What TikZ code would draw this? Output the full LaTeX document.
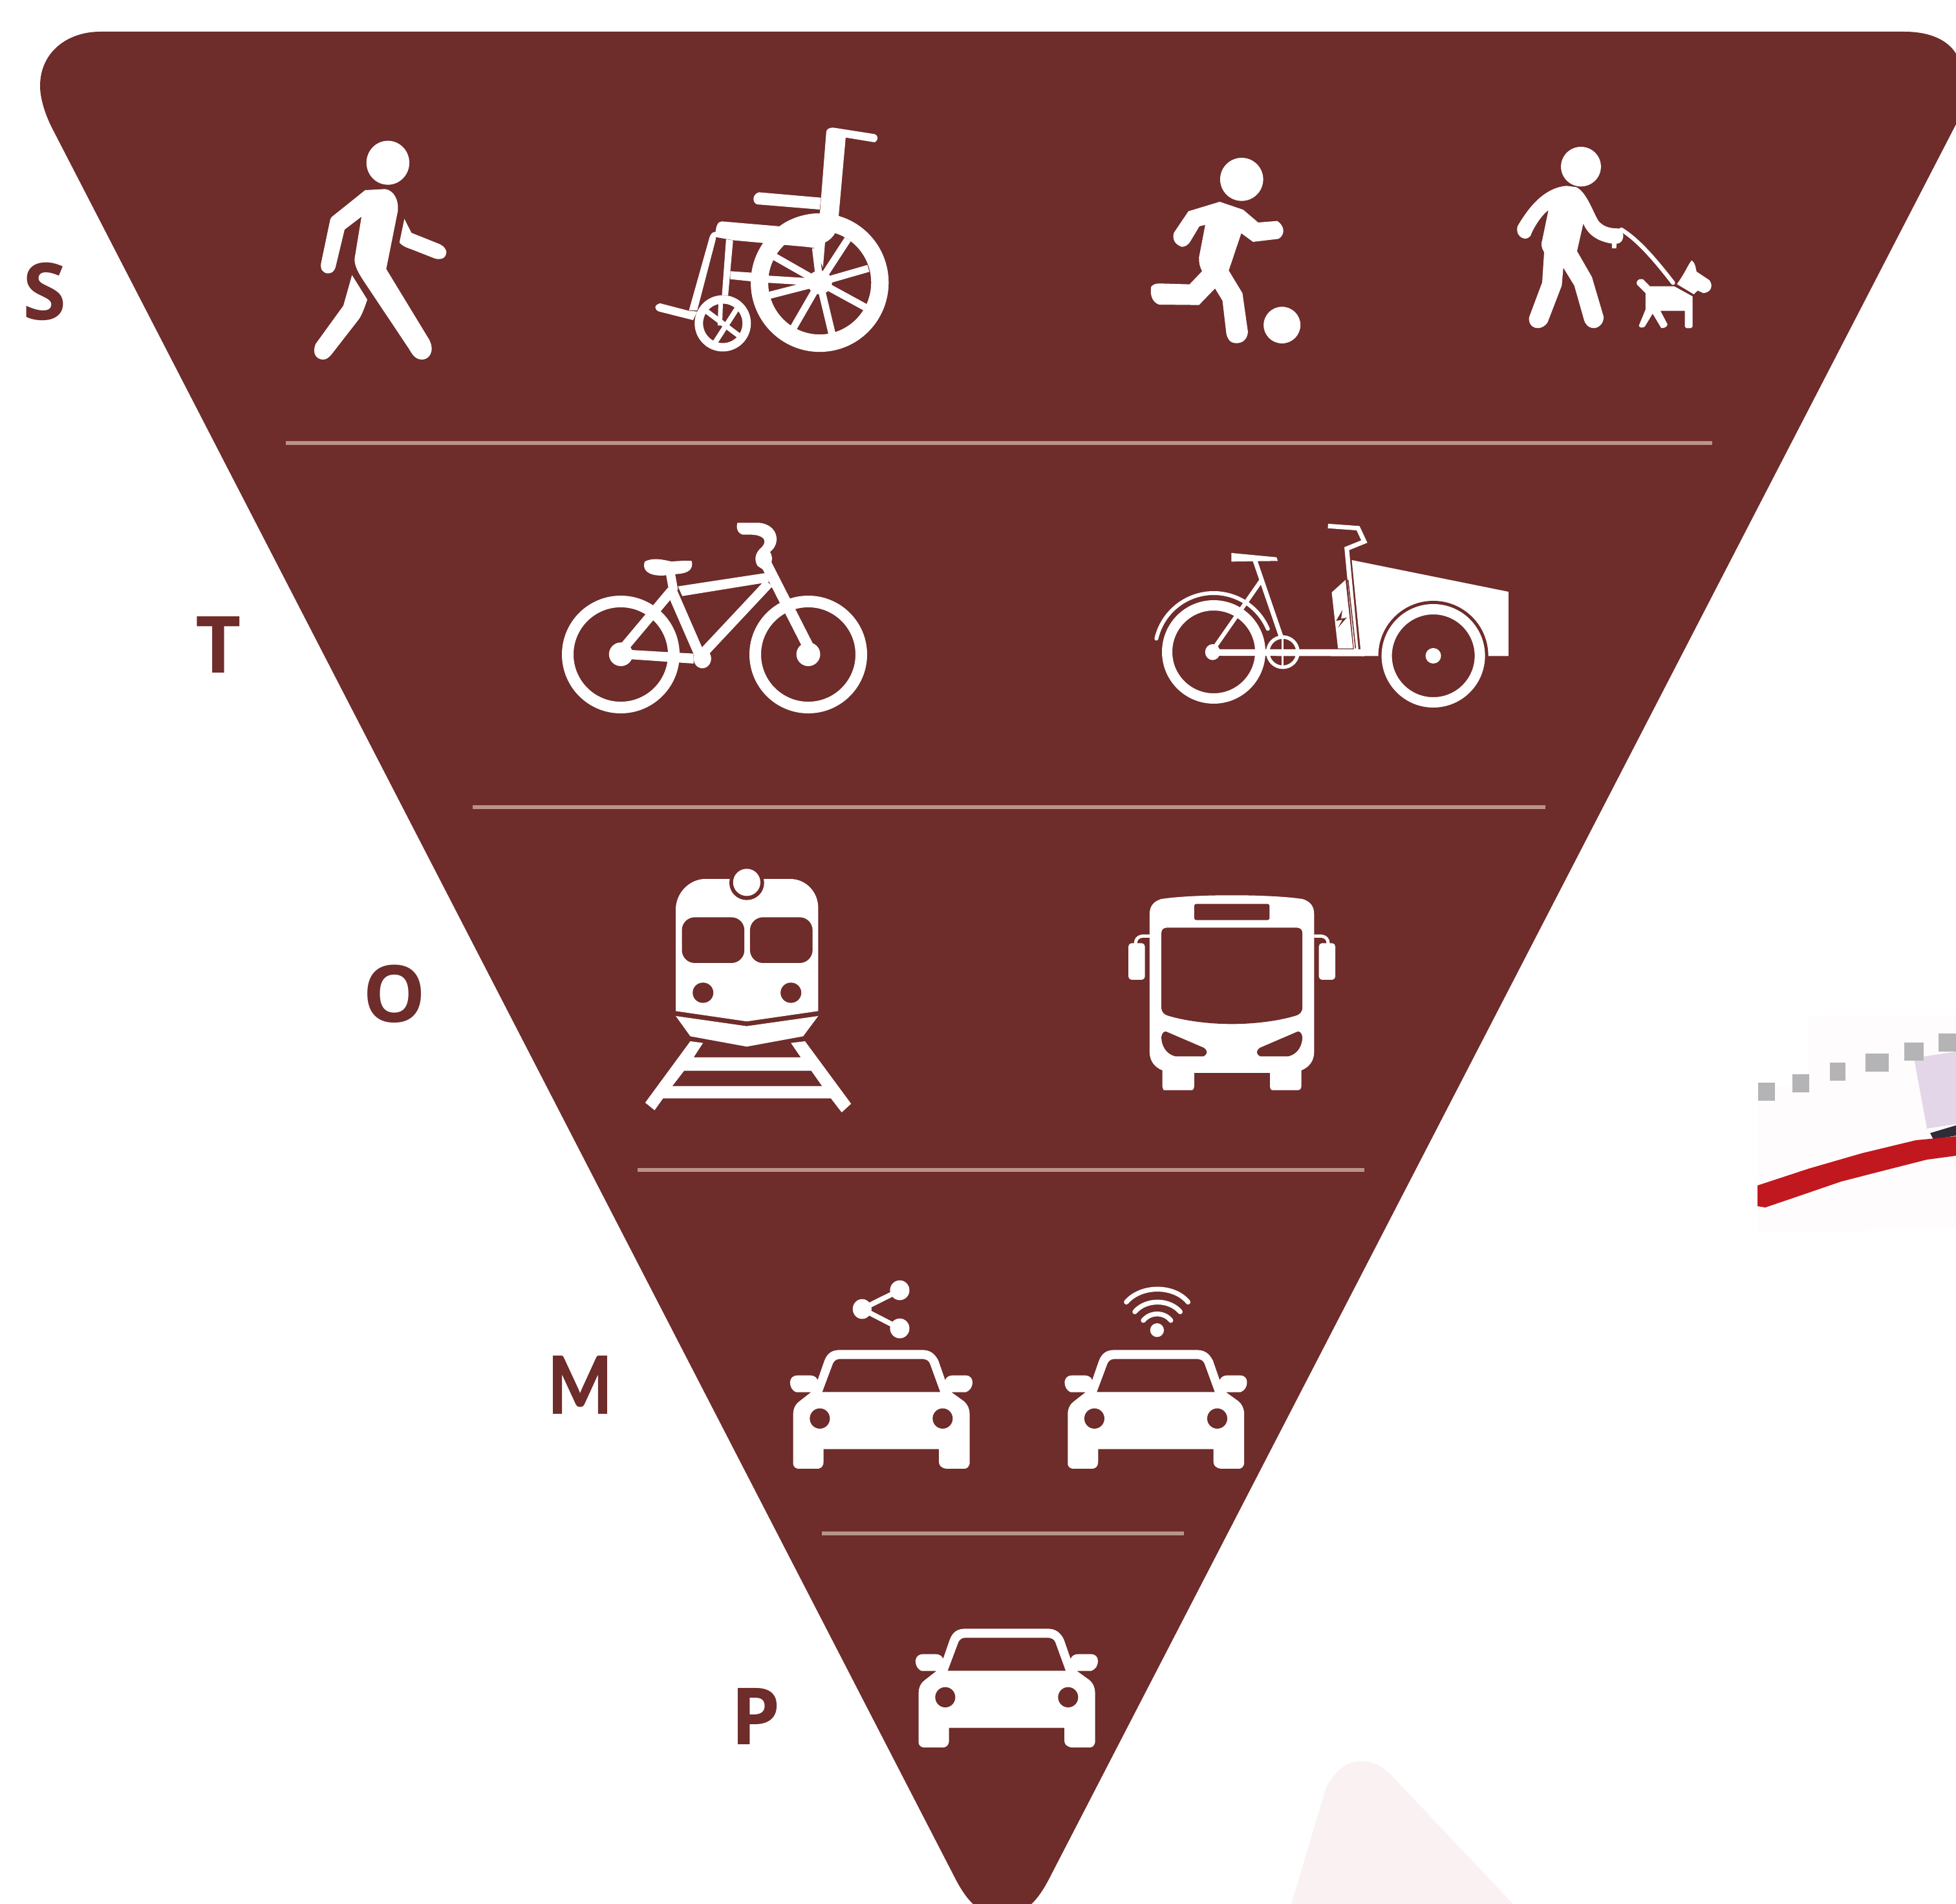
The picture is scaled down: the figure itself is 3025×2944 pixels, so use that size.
\documentclass[tikz,border=0pt]{standalone}
\usepackage{fontspec}
\setmainfont{Open Sans}[BoldFont={Open Sans Bold}]
\newfontfamily\splayfont{Lato}[BoldFeatures={FakeBold=1.5}]
\definecolor{wine}{HTML}{6E2C2A}
\definecolor{rulec}{HTML}{B8948A}
\definecolor{pale}{HTML}{FAF2F2}
\definecolor{faint}{HTML}{FEFCFC}
\definecolor{chipg}{HTML}{B4B4B6}
\definecolor{lilac}{HTML}{E3D6E8}
\definecolor{redstroke}{HTML}{C0181E}
\definecolor{darkstroke}{HTML}{2E2C38}
\tikzset{
  zm/.style n args={4}{shift={(#1,#2)},x=#3pt,y=-#4pt},
  ico/.style={fill=white,draw=none},
  cut/.style={fill=wine,draw=none},
  wl/.style={draw=white,line cap=round,line join=round},
  divider/.style={draw=rulec,line width=5.5pt},
  letter/.style={text=wine,font=\fontsize{122}{122}\selectfont\bfseries,inner sep=0pt,anchor=center}
}
\newcommand{\carshape}{%
  \fill[ico] (55,910) -- (55,680) .. controls (55,650) and (65,630) .. (75,620) -- (112,578) -- (65,578) .. controls (50,570) and (45,550) .. (45,530) .. controls (47,510) and (55,500) .. (70,500) -- (110,500) .. controls (125,502) and (130,510) .. (133,522) -- (155,430) .. controls (165,395) and (180,382) .. (205,382) -- (465,382) .. controls (490,382) and (505,395) .. (518,430) -- (540,522) .. controls (543,510) and (550,500) .. (565,500) -- (605,500) .. controls (620,500) and (627,515) .. (627,530) .. controls (627,555) and (620,570) .. (605,578) -- (560,578) -- (600,620) .. controls (612,635) and (618,655) .. (618,680) -- (618,910) .. controls (615,925) and (610,933) .. (600,933) -- (545,933) .. controls (525,930) and (520,915) .. (520,900) -- (520,842) -- (152,842) -- (152,900) .. controls (152,915) and (148,930) .. (135,933) -- (70,933) .. controls (60,930) and (55,920) .. (55,910) -- cycle;
  \fill[cut] (148,577) -- (182,445) .. controls (187,430) and (195,424) .. (205,424) -- (465,424) .. controls (480,424) and (487,432) .. (491,445) -- (524,577) -- cycle;
  \fill[cut] (140,700) ellipse [x radius=32,y radius=47];
  \fill[cut] (532,700) ellipse [x radius=32,y radius=47];
}
\begin{document}
\begin{tikzpicture}[x=1pt,y=-1pt]
\useasboundingbox (0,0) rectangle (3025,2944);
\fill[white] (0,0) rectangle (3025,2944);
\clip (0,0) rectangle (3025,2944);

% faint scraps at the edges
\fill[faint] (2718,1680) -- (2797,1680) -- (2797,1570) -- (3025,1570) -- (3025,1900) -- (2885,1900) -- (2885,1905) -- (2718,1905) -- cycle;
\fill[pale] (1997,2944) -- (2050,2767) .. controls (2062,2738) and (2085,2723) .. (2105,2723) .. controls (2122,2723) and (2138,2731) .. (2150,2743) -- (2340,2944) -- cycle;

% scrap of map
\fill[lilac] (2960,1636) -- (3025,1626) -- (3025,1738) -- (2980,1745) -- cycle;
\fill[darkstroke] (2985,1752) -- (3025,1740) -- (3025,1756) -- (2990,1762) -- cycle;
\fill[redstroke] (2718,1833) -- (2797,1807) -- (2880,1783) -- (2963,1763) -- (3025,1757) -- (3025,1787) -- (2980,1793) -- (2913,1810) -- (2847,1827) -- (2780,1850) -- (2730,1867) -- (2718,1865) -- cycle;
\foreach \cx/\cy/\w in {2732/1688/26,2785/1675/26,2842/1657/24,2903/1643/36,2960/1626/30,3013/1612/30}
  \fill[chipg] (\cx-\w/2,\cy-14) rectangle (\cx+\w/2,\cy+14);

% funnel
\fill[wine] (155,49) -- (2945,49) .. controls (2985,49) and (3012,62) .. (3025,83) -- (3025,192) -- (1625,2900) .. controls (1615,2920) and (1605,2935) .. (1595,2944) -- (1505,2944) .. controls (1495,2935) and (1485,2920) .. (1475,2900) -- (79,195) .. controls (68,172) and (62,150) .. (62,133) .. controls (62,80) and (105,49) .. (155,49) -- cycle;

% dividers
\draw[divider] (442,685) -- (2648,685);
\draw[divider] (731,1248) -- (2390,1248);
\draw[divider] (986,1809) -- (2110,1809);
\draw[divider] (1271,2371) -- (1831,2371);

% letters
\node[letter] (ls) at (69,451) {S};
\node[letter] (lt) at (338,997) {T};
\node[letter] (lo) at (610,1537) {O};
\node[letter] (lm) at (897,2141) {\splayfont\scalebox{0.86}[1]{M}};
\node[letter] (lp) at (1169,2654) {P};

% walker and wheelchair
\begin{scope}[zm={450}{170}{0.6378}{0.3333}]
\fill[ico] (235,245) ellipse [x radius=52,y radius=102];
\fill[ico] (180,372) -- (228,367) .. controls (250,372) and (262,420) .. (259,470) -- (231,738) -- (335,1065) .. controls (350,1120) and (335,1158) .. (318,1158) .. controls (300,1158) and (293,1130) .. (285,1105) -- (175,790) .. controls (160,745) and (150,710) .. (156,670) -- (171,495) -- (130,555) -- (108,730) .. controls (105,750) and (98,758) .. (90,758) .. controls (78,758) and (70,740) .. (73,710) -- (95,510) .. controls (97,497) and (100,495) .. (105,487) -- cycle;
\fill[ico] (148,766) -- (185,880) .. controls (178,920) and (172,950) .. (165,970) -- (100,1130) .. controls (92,1150) and (85,1158) .. (78,1158) .. controls (62,1158) and (50,1130) .. (60,1085) -- (127,908) -- cycle;
\fill[ico] (275,505) -- (292,570) -- (360,622) .. controls (375,635) and (380,660) .. (375,675) .. controls (372,690) and (362,695) .. (350,690) -- (290,645) .. controls (278,638) and (268,628) .. (263,615) -- cycle;
% chair
\draw[wl,line width=27pt] (1282,801) ellipse [x radius=146,y radius=281];
\foreach \a/\b in {1350/600,1400/735,1392/915,1312/1040,1218/1012,1160/860,1155/785,1172/680,1272/640}
  \draw[white,line width=11pt] (1282,800) -- (\a,\b);
\fill[ico] (1282,800) ellipse [x radius=30,y radius=55];
\fill[ico] (1030,590) .. controls (1028,540) and (1035,517) .. (1045,517) -- (1185,540) .. controls (1210,500) and (1250,482) .. (1285,482) -- (1328,492) -- (1320,568) .. controls (1315,590) and (1305,605) .. (1295,615) -- (1290,730) -- (1270,640) -- (1248,635) -- (1075,605) -- cycle;
\fill[ico] (1298,100) .. controls (1300,88) and (1305,82) .. (1315,82) -- (1415,112) .. controls (1425,120) and (1425,140) .. (1415,150) -- (1345,128) -- (1328,492) -- (1282,490) -- cycle;
\fill[ico] (1135,382) -- (1285,407) -- (1282,462) -- (1130,438) .. controls (1118,430) and (1118,390) .. (1135,382) -- cycle;
\fill[ico] (1015,590) .. controls (1018,575) and (1022,565) .. (1030,565) -- (1030,600) -- (985,930) -- (965,930) -- cycle;
\fill[ico] (1055,600) -- (1072,605) -- (1060,860) -- (1045,860) -- cycle;
\fill[ico] (1065,748) -- (1118,755) -- (1115,795) -- (1065,785) -- cycle;
\fill[ico] (895,897) -- (965,932) -- (985,935) -- (975,975) -- (892,935) .. controls (880,925) and (880,905) .. (895,897) -- cycle;
\draw[white,line width=13pt] (1047,990) ellipse [x radius=58,y radius=111];
\draw[white,line width=8pt] (1005,930) -- (1088,1050);
\draw[white,line width=8pt] (1082,920) -- (1028,1080);
\draw[white,line width=7pt] (1042,890) -- (1040,1000);
\end{scope}

% kicker and dog walker
\begin{scope}[zm={1750}{190}{0.6059}{0.3333}]
\fill[ico] (281,262) ellipse [x radius=55,y radius=100];
\fill[ico] (225,366) -- (285,403) -- (323,462) -- (372,455) .. controls (392,480) and (392,520) .. (375,538) -- (310,552) -- (280,512) -- (248,685) -- (283,790) -- (297,970) .. controls (295,1010) and (280,1022) .. (268,1022) .. controls (250,1022) and (245,1000) .. (242,980) -- (232,825) -- (213,768) -- (172,845) -- (70,843) .. controls (50,830) and (47,790) .. (50,760) .. controls (55,750) and (60,745) .. (72,745) -- (148,749) -- (180,688) .. controls (172,660) and (172,640) .. (172,625) -- (188,473) -- (173,480) -- (150,550) .. controls (143,570) and (135,575) .. (128,575) .. controls (105,560) and (105,530) .. (108,510) -- (145,410) -- cycle;
\fill[ico] (384,938) ellipse [x radius=47,y radius=85];
% dog walker
\fill[ico] (1147,203) ellipse [x radius=51,y radius=92];
\fill[ico] (1110,292) -- (1135,298) .. controls (1160,320) and (1175,400) .. (1190,450) .. controls (1205,490) and (1230,490) .. (1250,490) -- (1255,520) .. controls (1256,540) and (1250,560) .. (1238,560) -- (1237,582) -- (1226,582) -- (1226,560) .. controls (1190,550) and (1165,520) .. (1153,467) -- (1137,595) -- (1175,715) -- (1205,900) .. controls (1205,935) and (1190,952) .. (1180,952) .. controls (1165,952) and (1157,930) .. (1155,915) -- (1130,755) -- (1102,672) -- (1098,755) -- (1062,925) .. controls (1055,945) and (1045,952) .. (1037,952) .. controls (1020,952) and (1012,925) .. (1015,900) -- (1048,740) -- (1053,600) .. controls (1045,575) and (1045,560) .. (1048,545) -- (1064,405) .. controls (1045,430) and (1025,490) .. (1018,525) .. controls (1015,532) and (1010,537) .. (1003,537) .. controls (985,530) and (982,500) .. (985,480) .. controls (1020,370) and (1060,300) .. (1110,292) -- cycle;
\draw[wl,line width=6.5pt] (1250,495) .. controls (1290,540) and (1330,620) .. (1382,742);
\fill[ico] (1297,725) -- (1305,725) -- (1323,758) -- (1385,758) -- (1432,805) -- (1432,945) -- (1428,952) -- (1416,952) -- (1412,945) -- (1412,872) -- (1350,872) -- (1368,935) .. controls (1366,948) and (1360,952) .. (1352,952) -- (1330,885) -- (1310,945) .. controls (1305,952) and (1295,952) .. (1295,940) -- (1312,865) -- (1312,790) -- (1290,750) .. controls (1288,738) and (1290,730) .. (1297,725) -- cycle;
\fill[ico] (1392,748) .. controls (1415,690) and (1422,650) .. (1430,638) .. controls (1440,650) and (1440,680) .. (1442,690) -- (1475,730) .. controls (1485,755) and (1480,785) .. (1460,790) -- (1445,778) -- (1435,795) -- cycle;
\end{scope}

% wheels of the bicycle and cargo bike
\draw[white,line width=18pt] (960,1012) circle [radius=82];
\draw[white,line width=18pt] (1250,1012) circle [radius=82];
\draw[white,line width=16pt] (1877,1008) circle [radius=72];
\draw[wl,line width=6pt] (1877,1008) ++(-167:91) arc[start angle=-167,end angle=-23,radius=91];
\begin{scope}[zm={840}{780}{0.9694}{0.3333}]
\fill[ico] (124,695) ellipse [x radius=19,y radius=55];
\fill[ico] (423,695) ellipse [x radius=19,y radius=55];
\fill[ico] (140,675) -- (240,692) -- (240,738) -- (140,718) -- cycle;
\fill[ico] (254,715) ellipse [x radius=14,y radius=45];
\draw[white,line width=15pt] (130,660) -- (205,400);
\draw[white,line width=16pt] (205,400) -- (250,700);
\draw[white,line width=15pt] (252,700) -- (360,365);
\fill[ico] (215,380) -- (355,318) -- (360,360) -- (222,425) -- cycle;
\draw[white,line width=17pt] (353,260) -- (423,660);
\fill[ico] (310,85) -- (345,85) .. controls (375,95) and (380,180) .. (362,220) .. controls (368,250) and (365,280) .. (355,310) -- (342,285) .. controls (335,250) and (340,220) .. (348,200) .. controls (360,165) and (350,140) .. (330,140) -- (318,140) .. controls (308,130) and (308,100) .. (310,85) -- cycle;
\fill[ico] (162,265) .. controls (175,245) and (190,255) .. (205,265) .. controls (215,262) and (225,260) .. (237,262) .. controls (240,300) and (232,318) .. (216,322) -- (190,330) .. controls (165,330) and (158,300) .. (162,265) -- cycle;
\draw[white,line width=14pt] (203,320) -- (208,400);
% cargo bike
\fill[ico] (1068,685) ellipse [x radius=12,y radius=37];
\fill[ico] (1078,672) -- (1310,672) -- (1310,704) -- (1078,702) -- cycle;
\draw[white,line width=6.5pt] (1072,660) -- (1145,355);
\draw[white,line width=7pt] (1135,255) -- (1178,620);
\fill[ico] (1098,225) -- (1170,245) -- (1172,262) -- (1098,265) -- cycle;
\draw[white,line width=5.5pt] (1180,685) ellipse [x radius=24,y radius=70];
\draw[white,line width=3pt] (1180,615) -- (1180,755);
\fill[ico] (1290,258) -- (1540,405) -- (1540,703) -- (1305,703) -- cycle;
\draw[white,line width=7pt,line join=miter] (1252,100) -- (1300,110) -- (1310,172) -- (1282,205) -- (1297,672);
\fill[ico] (1258,408) -- (1280,350) -- (1292,668) -- (1268,668) -- cycle;
\draw[wine,line width=1.5pt] (1284,350) -- (1296,668);
\fill[cut] (1275,490) -- (1265,540) -- (1275,535) -- (1268,572) -- (1282,525) -- (1273,530) -- cycle;
\end{scope}
\fill[wine] (2216.6,1014) circle [radius=85];
\fill[wine] (2125,1015) rectangle (2360,1105);
\draw[white,line width=16pt] (2216.6,1014) circle [radius=72];
\fill[white] (2216.6,1014) circle [radius=12];

% train and bus
\begin{scope}[zm={960}{1320}{0.7270}{0.3333}]
\fill[ico] (117,730) -- (117,250) .. controls (120,170) and (150,117) .. (180,117) -- (360,117) .. controls (395,117) and (420,180) .. (420,250) -- (420,730) -- (268,778) -- cycle;
\fill[cut] (268,135) ellipse [x radius=37,y radius=80];
\fill[ico] (268,133) ellipse [x radius=29,y radius=63];
\fill[cut,rounded corners=20pt] (130,295) rectangle (263,507);
\fill[cut,rounded corners=20pt] (275,295) rectangle (408,507);
\fill[cut] (175,645) ellipse [x radius=22,y radius=47];
\fill[cut] (362,645) ellipse [x radius=22,y radius=47];
\fill[ico] (117,753) -- (268,800) -- (420,753) -- (388,847) -- (268,895) -- (148,847) -- cycle;
\fill[ico] (148,870) -- (175,878) -- (155,945) -- (383,945) -- (362,878) -- (392,870) -- (490,1160) -- (470,1200) -- (447,1135) -- (90,1135) -- (72,1190) -- (52,1155) -- cycle;
\fill[cut] (135,1007) -- (405,1007) -- (428,1078) -- (110,1078) -- cycle;
% bus
\fill[ico] (1125,280) .. controls (1125,240) and (1135,220) .. (1150,210) .. controls (1220,187) and (1380,187) .. (1450,210) .. controls (1465,220) and (1475,240) .. (1475,280) -- (1475,920) .. controls (1475,960) and (1465,990) .. (1448,1005) -- (1448,1075) .. controls (1448,1090) and (1445,1097) .. (1440,1097) -- (1385,1097) .. controls (1381,1090) and (1381,1085) .. (1381,1075) -- (1381,1017) -- (1220,1017) -- (1220,1075) .. controls (1220,1085) and (1218,1097) .. (1215,1097) -- (1155,1097) .. controls (1152,1085) and (1152,1080) .. (1152,1075) -- (1152,1005) .. controls (1135,990) and (1125,960) .. (1125,920) -- cycle;
\fill[cut,rounded corners=3pt] (1220,233) rectangle (1380,308);
\fill[cut] (1150,370) .. controls (1150,350) and (1155,343) .. (1165,343) -- (1435,343) .. controls (1445,343) and (1450,350) .. (1450,370) -- (1450,710) .. controls (1450,735) and (1445,745) .. (1435,752) .. controls (1400,775) and (1350,790) .. (1300,790) .. controls (1250,790) and (1200,775) .. (1165,752) .. controls (1155,745) and (1150,735) .. (1150,710) -- cycle;
\fill[cut] (1150,850) .. controls (1152,830) and (1155,825) .. (1160,825) -- (1240,900) .. controls (1250,915) and (1248,930) .. (1240,940) -- (1180,940) .. controls (1160,930) and (1150,890) .. (1150,850) -- cycle;
\fill[cut] (1450,850) .. controls (1448,830) and (1445,825) .. (1440,825) -- (1360,900) .. controls (1350,915) and (1352,930) .. (1360,940) -- (1420,940) .. controls (1440,930) and (1450,890) .. (1450,850) -- cycle;
\fill[ico,rounded corners=5pt] (1080,415) rectangle (1115,585);
\fill[ico,rounded corners=5pt] (1485,415) rectangle (1520,585);
\draw[white,line width=5pt] (1125,382) -- (1110,382) .. controls (1098,387) and (1096,397) .. (1095,417);
\draw[white,line width=5pt] (1475,382) -- (1490,382) .. controls (1502,387) and (1504,397) .. (1505,417);
\end{scope}

% shared car, connected car, private car
\begin{scope}[zm={1200}{1960}{0.4847}{0.3333}]
\carshape
\draw[white,line width=8pt] (275,192) -- (395,105);
\draw[white,line width=8pt] (275,192) -- (395,282);
\fill[ico] (395,105) ellipse [x radius=31,y radius=46];
\fill[ico] (275,192) ellipse [x radius=30,y radius=46];
\fill[ico] (395,282) ellipse [x radius=31,y radius=46];
\fill[ico] (1216,290) ellipse [x radius=22,y radius=32];
\draw[wl,line width=7.5pt] (1172,245) .. controls (1195,205) and (1238,205) .. (1260,245);
\draw[wl,line width=7.5pt] (1145,205) .. controls (1180,145) and (1255,145) .. (1290,205);
\draw[wl,line width=7.5pt] (1118,160) .. controls (1165,80) and (1270,80) .. (1315,160);
\end{scope}
\begin{scope}[zm={1624.6}{1960}{0.4847}{0.3333}]
\carshape
\end{scope}
\begin{scope}[zm={1394}{2391}{0.4847}{0.3333}]
\carshape
\end{scope}
\end{tikzpicture}
\end{document}
